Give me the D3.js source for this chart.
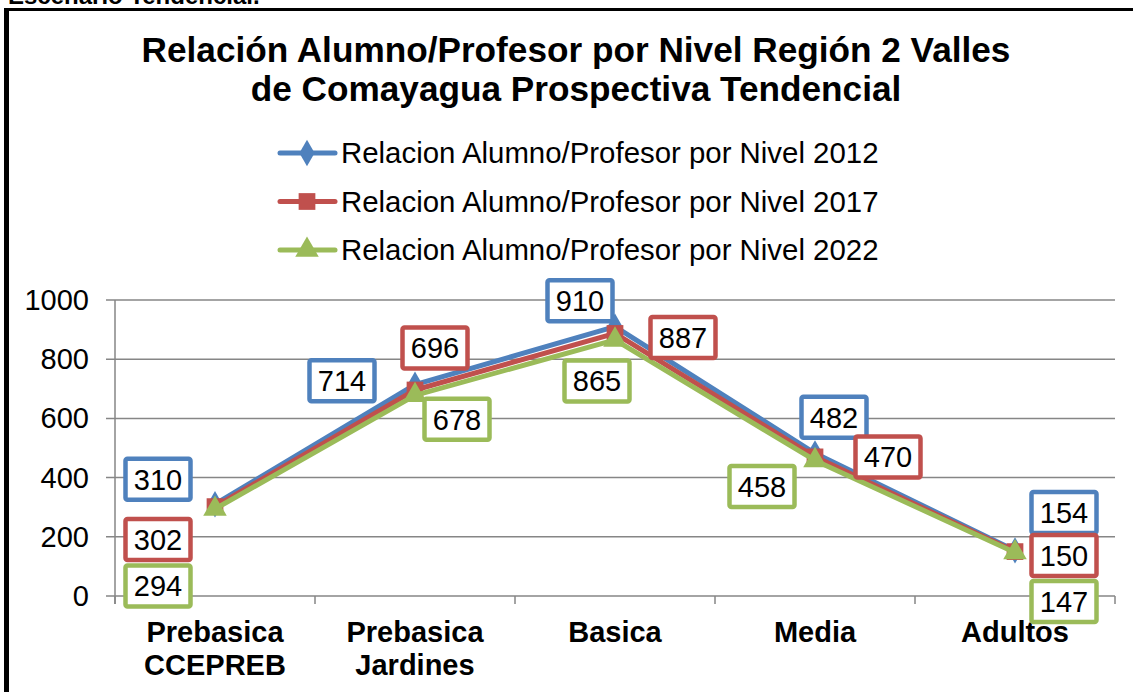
<!DOCTYPE html>
<html>
<head>
<meta charset="utf-8">
<script src="https://cdn.jsdelivr.net/npm/d3@7"></script>
<style>
  body { margin: 0; background: #fff; }
  svg { display: block; font-family: Arial, "Liberation Sans", sans-serif; }
</style>
</head>
<body>
<svg id="chart" width="1133" height="692"></svg>
<script>
// data
var categories = [["Prebasica", "CCEPREB"], ["Prebasica", "Jardines"], ["Basica"], ["Media"], ["Adultos"]];
var seriesNames = ["Relacion Alumno/Profesor por Nivel 2012", "Relacion Alumno/Profesor por Nivel 2017", "Relacion Alumno/Profesor por Nivel 2022"];
var values2012 = [310, 714, 910, 482, 154];
var values2017 = [302, 696, 887, 470, 150];
var values2022 = [294, 678, 865, 458, 147];
var yTicks = [0, 200, 400, 600, 800, 1000];

// label offsets from each point (pixels), hand placed like in the original
var labelOffsets = [
  [[-57, -25], [-73, -4], [-35, -26], [19, -36], [49, -38]],
  [[-57, 33], [20, -42], [68, 4], [73, 0], [49, 4]],
  [[-57, 77], [42, 24], [-18, 41], [-53, 26], [49, 49]]
];

var colors = ["#4F81BD", "#C0504D", "#9BBB59"];
var symbols = [d3.symbolDiamond, d3.symbolSquare, d3.symbolTriangle];
var symbolSizes = [200, 280, 240];

var series = [values2012, values2017, values2022].map(function(v, i) {
  return { name: seriesNames[i], values: v, color: colors[i], symbol: symbols[i], size: symbolSizes[i], offsets: labelOffsets[i] };
});

var svg = d3.select("#chart");

// cut-off heading above the frame (it is clipped in the original too)
svg.append("text")
  .attr("x", 8).attr("y", 4)
  .attr("font-size", 24).attr("font-weight", "bold")
  .text("Escenario Tendencial.");

// frame
svg.append("line").attr("x1", 4).attr("x2", 1133).attr("y1", 9.5).attr("y2", 9.5)
  .attr("stroke", "#000").attr("stroke-width", 3);
svg.append("line").attr("x1", 6.5).attr("x2", 6.5).attr("y1", 8).attr("y2", 692)
  .attr("stroke", "#000").attr("stroke-width", 5);

// title
var title = svg.append("text")
  .attr("text-anchor", "middle")
  .attr("font-size", 35.2).attr("font-weight", "bold");
title.append("tspan").attr("x", 576).attr("y", 62).text("Relación Alumno/Profesor por Nivel Región 2 Valles");
title.append("tspan").attr("x", 576).attr("y", 101).text("de Comayagua Prospectiva Tendencial");

// legend
var legend = svg.append("g").selectAll("g")
  .data(series)
  .join("g")
  .attr("transform", function(d, i) { return "translate(0," + (153 + i * 48.5) + ")"; });

legend.append("line")
  .attr("x1", 280).attr("x2", 335)
  .attr("stroke", function(d) { return d.color; })
  .attr("stroke-width", 5)
  .attr("stroke-linecap", "round");
legend.append("path")
  .attr("transform", "translate(307,0)")
  .attr("d", function(d) { return d3.symbol(d.symbol, d.size)(); })
  .attr("fill", function(d) { return d.color; });
legend.append("text")
  .attr("x", 341).attr("y", 10)
  .attr("font-size", 29.4)
  .text(function(d) { return d.name; });

// plot area
var plotLeft = 115, plotRight = 1115, plotTop = 300, plotBottom = 596;

var x = d3.scaleBand()
  .domain(d3.range(categories.length))
  .range([plotLeft, plotRight]);

var y = d3.scaleLinear()
  .domain([0, 1000])
  .range([plotBottom, plotTop]);

// gridlines
svg.append("g").selectAll("line")
  .data(yTicks)
  .join("line")
  .attr("x1", plotLeft - 9).attr("x2", plotRight)
  .attr("y1", function(d) { return y(d); })
  .attr("y2", function(d) { return y(d); })
  .attr("stroke", "#868686").attr("stroke-width", 1.5);

// y axis line
svg.append("line")
  .attr("x1", plotLeft).attr("x2", plotLeft)
  .attr("y1", plotTop).attr("y2", plotBottom + 8)
  .attr("stroke", "#868686").attr("stroke-width", 1.5);

// x ticks at category boundaries
svg.append("g").selectAll("line")
  .data(d3.range(categories.length + 1))
  .join("line")
  .attr("x1", function(d) { return plotLeft + d * x.step(); })
  .attr("x2", function(d) { return plotLeft + d * x.step(); })
  .attr("y1", plotBottom).attr("y2", plotBottom + 8)
  .attr("stroke", "#868686").attr("stroke-width", 1.5);

// y tick labels
svg.append("g").selectAll("text")
  .data(yTicks)
  .join("text")
  .attr("x", 89)
  .attr("y", function(d) { return y(d) + 10; })
  .attr("text-anchor", "end")
  .attr("font-size", 29)
  .text(function(d) { return d; });

// category labels
var catLabels = svg.append("g").selectAll("text")
  .data(categories)
  .join("text")
  .attr("text-anchor", "middle")
  .attr("font-size", 29).attr("font-weight", "bold");
catLabels.selectAll("tspan")
  .data(function(d, i) { return d.map(function(t) { return { t: t, i: i }; }); })
  .join("tspan")
  .attr("x", function(d) { return x(d.i) + x.bandwidth() / 2; })
  .attr("y", function(d, j) { return 642 + j * 33; })
  .text(function(d) { return d.t; });

// lines and markers
var line = d3.line()
  .x(function(d, i) { return x(i) + x.bandwidth() / 2; })
  .y(function(d) { return y(d); });

var seriesG = svg.append("g").selectAll("g")
  .data(series)
  .join("g");

seriesG.append("path")
  .attr("d", function(d) { return line(d.values); })
  .attr("fill", "none")
  .attr("stroke", function(d) { return d.color; })
  .attr("stroke-width", 5)
  .attr("stroke-linejoin", "round");

seriesG.selectAll(".marker")
  .data(function(d) { return d.values.map(function(v) { return { v: v, s: d }; }); })
  .join("path")
  .attr("class", "marker")
  .attr("transform", function(d, i) { return "translate(" + (x(i) + x.bandwidth() / 2) + "," + y(d.v) + ")"; })
  .attr("d", function(d) { return d3.symbol(d.s.symbol, d.s.size)(); })
  .attr("fill", function(d) { return d.s.color; });

// data labels
var labels = svg.append("g").selectAll("g")
  .data(series)
  .join("g")
  .selectAll("g")
  .data(function(d) { return d.values.map(function(v, i) { return { v: v, i: i, s: d }; }); })
  .join("g")
  .attr("transform", function(d) {
    var off = d.s.offsets[d.i];
    return "translate(" + (x(d.i) + x.bandwidth() / 2 + off[0]) + "," + (y(d.v) + off[1]) + ")";
  });

labels.append("rect")
  .attr("x", -32.5).attr("y", -20.5)
  .attr("width", 65).attr("height", 41)
  .attr("rx", 2)
  .attr("fill", "#fff")
  .attr("stroke", function(d) { return d.s.color; })
  .attr("stroke-width", 4.5);

labels.append("text")
  .attr("text-anchor", "middle")
  .attr("y", 10.5)
  .attr("font-size", 29)
  .text(function(d) { return d.v; });
</script>
</body>
</html>
